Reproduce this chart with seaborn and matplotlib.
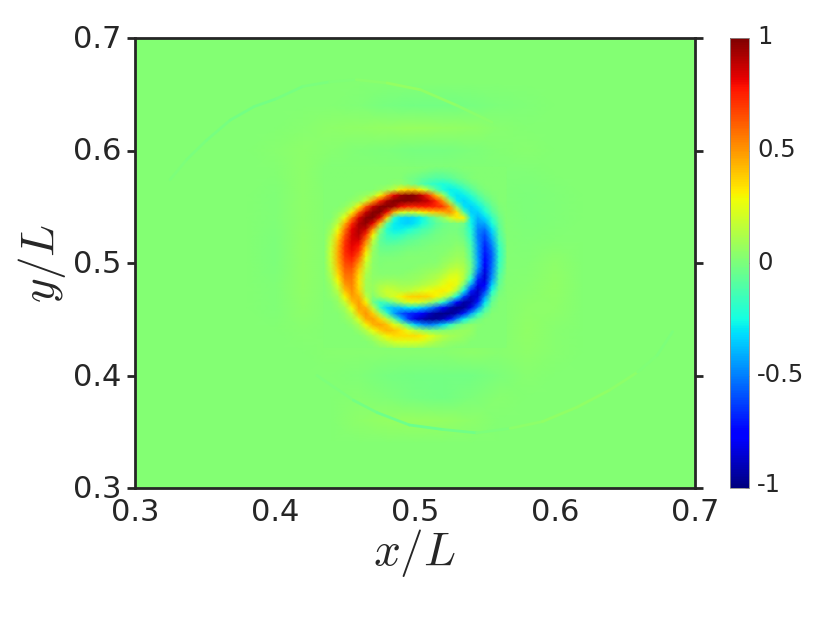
import numpy as np
import matplotlib
matplotlib.use("Agg")
import matplotlib.pyplot as plt
import matplotlib.transforms as mtrans
from matplotlib.collections import LineCollection
import seaborn as sns

# tick labels
y_ticks = [0.3, 0.4, 0.5, 0.6, 0.7]
x_ticks = [0.3, 0.4, 0.5, 0.6, 0.7]
cbar_ticks = [-1, -0.5, 0, 0.5, 1]
cbar_labels = ["-1", "-0.5", "0", "0.5", "1"]

# the quiet background reads a little above the 0 of the colorbar
background = 2

# far field, read every 0.02 (x 0.30..0.70, y 0.70..0.30), in hundredths
far_x0, far_ytop, far_step = 0.30, 0.70, 0.02
far_field = [
    [0,0,0,0,0,0,0,0,0,0,0,0,0,0,0,0,0,0,0,0,0],
    [0,0,0,0,0,0,0,0,0,0,0,0,0,0,0,0,0,0,0,0,0],
    [0,0,0,0,0,0,0,0,0,0,0,0,0,0,0,0,0,0,0,0,0],
    [0,0,0,0,0,0,0,0,-1,-3,-4,-4,-3,-2,-1,0,0,0,0,0,0],
    [0,0,0,0,0,0,1,2,3,4,5,4,3,1,0,0,0,0,0,0,0],
    [0,0,0,0,0,1,2,1,-1,-2,-3,-3,-2,0,1,0,0,0,0,0,0],
    [0,0,0,0,0,0,2,-1,0,0,0,0,0,-1,-1,0,0,0,0,0,0],
    [0,0,0,0,0,-1,2,0,0,0,0,0,0,-1,-2,-1,0,0,0,0,0],
    [0,0,0,0,0,-1,2,0,0,0,0,0,0,0,-2,-1,0,0,0,0,0],
    [0,0,0,0,0,-2,3,0,0,0,0,0,0,0,-1,0,0,0,0,0,0],
    [0,0,0,0,0,-2,3,0,0,0,0,0,0,0,0,2,0,0,0,0,0],
    [0,0,0,0,0,-1,3,0,0,0,0,0,0,0,1,3,0,0,0,0,0],
    [0,0,0,0,0,-1,2,0,0,0,0,0,0,0,2,2,0,0,0,0,0],
    [0,0,0,0,0,0,1,0,0,0,0,0,0,0,3,1,0,0,0,0,0],
    [0,0,0,0,0,0,0,1,1,1,1,1,2,1,2,1,0,0,0,0,0],
    [0,0,0,0,0,0,0,0,-1,-3,-4,-4,-4,-2,1,0,0,0,0,0,0],
    [0,0,0,0,0,0,0,0,1,-1,-3,-4,-2,1,0,0,0,0,0,0,0],
    [0,0,0,0,0,0,0,0,2,4,5,4,2,0,0,0,0,0,0,0,0],
    [0,0,0,0,0,0,0,0,0,0,0,0,0,0,0,0,0,0,0,0,0],
    [0,0,0,0,0,0,0,0,0,0,0,0,0,0,0,0,0,0,0,0,0],
    [0,0,0,0,0,0,0,0,0,0,0,0,0,0,0,0,0,0,0,0,0],
]

# vortex core, read every 0.005 (x 0.435..0.565, y 0.585..0.425), in hundredths
core_x0, core_ytop, core_step = 0.435, 0.585, 0.005
core_field = [
    [0,0,0,0,0,0,0,0,0,0,0,0,0,0,0,-1,-2,-2,-2,-1,0,0,0,0,0,0,0],
    [0,0,0,0,0,0,0,0,0,0,0,0,-1,-2,-3,-5,-6,-6,-5,-3,-2,-1,0,0,0,0,0],
    [0,0,0,0,0,0,0,0,0,0,0,0,-3,-5,-8,-10,-12,-12,-10,-6,-4,-1,0,0,0,0,0],
    [0,0,0,0,0,0,0,0,0,0,2,3,0,-5,-12,-18,-22,-25,-22,-16,-10,-5,-2,0,0,0,0],
    [0,0,0,0,0,0,0,0,3,8,15,30,35,35,25,8,-10,-25,-30,-28,-20,-12,-5,-2,0,0,0],
    [0,0,0,0,0,2,5,12,28,55,80,93,97,95,85,68,40,10,-25,-32,-30,-22,-12,-5,-2,0,0],
    [0,0,0,0,3,6,18,45,72,90,98,100,97,94,90,84,72,48,5,-30,-35,-30,-20,-10,-4,0,0],
    [0,0,0,3,10,30,62,85,96,100,92,78,72,72,74,74,72,68,46,0,-32,-36,-30,-18,-8,-2,0],
    [0,0,3,10,28,60,85,97,98,78,42,22,18,20,28,34,38,42,48,32,-12,-36,-36,-25,-12,-3,0],
    [0,0,8,25,55,82,96,98,80,35,-22,-34,-36,-34,-28,-15,-5,5,18,30,28,-30,-42,-34,-20,-6,0],
    [0,3,15,42,72,90,95,80,40,-10,-30,-34,-36,-32,-26,-18,-10,-6,-3,-2,-5,-28,-46,-44,-26,-9,0],
    [0,6,25,55,80,90,85,50,5,-22,-30,-30,-26,-20,-15,-12,-7,-4,-3,-3,-8,-24,-50,-54,-34,-11,0],
    [0,10,32,62,82,88,70,28,-5,-18,-22,-20,-16,-13,-10,-7,-4,-3,-2,-2,-6,-22,-52,-62,-40,-13,-2],
    [0,14,38,68,82,82,55,15,-8,-14,-14,-12,-9,-7,-5,-4,-3,-2,-1,0,-3,-18,-50,-66,-46,-16,-3],
    [0,16,42,70,80,75,42,8,-6,-8,-7,-6,-5,-4,-3,-2,-1,0,0,2,0,-14,-48,-70,-52,-20,-4],
    [0,18,44,70,78,68,32,5,-4,-5,-4,-3,-2,-2,-1,-1,0,0,2,4,3,-12,-48,-72,-56,-22,-5],
    [0,18,44,68,74,58,24,3,-2,-2,-2,-1,0,0,0,0,0,2,4,6,5,-10,-46,-75,-58,-22,-5],
    [0,16,42,64,68,48,18,2,-1,0,0,0,0,0,0,1,1,4,7,9,7,-6,-44,-78,-56,-20,-4],
    [0,14,38,60,62,40,14,2,0,0,0,0,0,1,2,3,4,7,12,14,10,-6,-48,-82,-54,-18,-3],
    [0,11,34,56,57,34,10,2,1,1,1,1,2,3,4,6,8,12,18,20,12,-12,-58,-86,-52,-14,-2],
    [0,8,28,52,54,32,8,3,4,5,5,4,4,5,7,9,12,18,24,24,10,-25,-70,-86,-46,-11,0],
    [0,5,20,46,52,32,8,5,9,11,10,8,8,9,12,15,18,24,28,22,-5,-48,-84,-80,-35,-8,0],
    [0,3,13,38,50,35,8,4,12,18,16,13,14,18,22,26,28,30,26,8,-30,-72,-90,-66,-24,-4,0],
    [0,2,7,28,46,42,15,0,8,15,20,28,34,36,36,34,28,18,2,-28,-65,-90,-87,-48,-13,-2,0],
    [0,0,4,16,38,47,28,-5,-18,-12,-2,10,20,22,18,8,-5,-22,-50,-78,-95,-94,-72,-32,-7,0,0],
    [0,0,2,8,26,46,42,15,-18,-35,-40,-38,-32,-32,-38,-48,-62,-78,-92,-100,-98,-82,-50,-18,-3,0,0],
    [0,0,0,4,14,38,48,36,8,-18,-45,-60,-68,-72,-80,-90,-98,-100,-100,-92,-72,-45,-22,-6,0,0,0],
    [0,0,0,2,7,22,44,46,34,15,-8,-38,-65,-85,-92,-98,-98,-92,-75,-52,-30,-14,-5,0,0,0,0],
    [0,0,0,0,3,10,28,42,45,38,24,10,-13,-36,-48,-53,-48,-36,-20,-8,-2,2,1,0,0,0,0],
    [0,0,0,0,0,4,12,25,36,42,39,33,23,13,5,-2,-3,0,2,4,5,4,0,0,0,0,0],
    [0,0,0,0,0,0,4,10,18,28,33,33,33,33,30,24,17,12,8,6,4,2,0,0,0,0,0],
    [0,0,0,0,0,0,0,3,9,14,20,22,22,22,20,15,10,6,4,3,2,0,0,0,0,0,0],
    [0,0,0,0,0,0,0,0,2,4,6,8,8,8,6,4,3,2,1,0,0,0,0,0,0,0,0],
]

# thin faint spiral arcs
arc_top_x = [0.325, 0.337, 0.351, 0.368, 0.385, 0.401, 0.420, 0.439, 0.458, 0.480, 0.504, 0.530, 0.555]
arc_top_y = [0.574, 0.592, 0.609, 0.627, 0.639, 0.646, 0.657, 0.661, 0.663, 0.660, 0.654, 0.640, 0.625]
arc_top_v = [-1, -2, -3, -4, -4, -4, -3, -2, 0, 3, 4, 2, 1]
arc_low_x = [0.430, 0.456, 0.473, 0.496, 0.520, 0.544, 0.568, 0.591, 0.616, 0.639, 0.659, 0.673, 0.684]
arc_low_y = [0.400, 0.378, 0.367, 0.356, 0.352, 0.349, 0.353, 0.359, 0.372, 0.387, 0.403, 0.418, 0.439]
arc_low_v = [-1, -3, -5, -6, -6, -4, 1, 3, 3, 3, 1, -2, -1]

sns.set_theme(style="white")
plt.rcParams["mathtext.fontset"] = "cm"

W, H = 830, 623
fig = plt.figure(figsize=(W / 100, H / 100), dpi=100)
ax = fig.add_axes([135 / W, 1 - 488 / H, 560 / W, 450 / H])
cax = fig.add_axes([730 / W, 1 - 488 / H, 19 / W, 450 / H])


def draw_field(values, x0, ytop, step, z, **kw):
    # seaborn puts nodes on integer positions, move them to x/L, y/L
    before = len(ax.collections)
    field = np.clip((np.array(values) + background) / 100, -1, 1)
    sns.heatmap(field, ax=ax, cmap="jet", vmin=-1, vmax=1,
                shading="gouraud", xticklabels=False, yticklabels=False, **kw)
    mesh = ax.collections[before]
    mesh.set_transform(mtrans.Affine2D().scale(step, -step).translate(x0, ytop) + ax.transData)
    mesh.set_zorder(z)
    return mesh


far_mesh = draw_field(far_field, far_x0, far_ytop, far_step, 1, cbar_ax=cax,
                      cbar_kws={"ticks": cbar_ticks})
draw_field(core_field, core_x0, core_ytop, core_step, 3, cbar=False)

norm = plt.Normalize(-1, 1)
for xs, ys, vs in [(arc_top_x, arc_top_y, arc_top_v), (arc_low_x, arc_low_y, arc_low_v)]:
    pts = np.column_stack([xs, ys])
    segs = np.stack([pts[:-1], pts[1:]], axis=1)
    vals = (np.array(vs[:-1]) + np.array(vs[1:]) + 2 * background) / 200
    lc = LineCollection(segs, cmap="jet", norm=norm, linewidths=2, zorder=2, capstyle="round")
    lc.set_array(vals)
    ax.add_collection(lc)

ax.set_xlim(0.3, 0.7)
ax.set_ylim(0.3, 0.7)
ax.set_xticks(x_ticks)
ax.set_yticks(y_ticks)
ax.set_xticklabels([str(t) for t in x_ticks], rotation=0)
ax.set_yticklabels([str(t) for t in y_ticks], rotation=0)
ax.tick_params(axis="x", length=0, labelsize=22, pad=7, colors=".15")
ax.tick_params(axis="y", length=6, width=2, left=True, right=True, labelsize=22, pad=4, colors=".15")
for s in ax.spines.values():
    s.set_visible(True)
    s.set_linewidth(2)
    s.set_color(".15")
ax.set_xlabel(r"$x/L$", fontsize=34, labelpad=0, color=".15")
ax.set_ylabel(r"$y/L$", fontsize=34, labelpad=3, color=".15")

# y labels sit a little above their ticks in the original
up = mtrans.ScaledTranslation(0, 1.5 / 100, fig.dpi_scale_trans)
for lab in ax.get_yticklabels():
    lab.set_transform(lab.get_transform() + up)

cbar = far_mesh.colorbar
cbar.set_ticklabels(cbar_labels)
cbar.outline.set_visible(True)
cbar.outline.set_linewidth(0.6)
cbar.outline.set_edgecolor(".55")
cax.tick_params(direction="in", length=3, width=0.6, color=".4", labelsize=17.5, pad=6, labelcolor=".15")
for i, lab in enumerate(cax.get_yticklabels()):
    lift = 5 if i == 0 else 3
    lab.set_transform(lab.get_transform() + mtrans.ScaledTranslation(0, lift / 100, fig.dpi_scale_trans))

fig.savefig("out.png", dpi=100)
